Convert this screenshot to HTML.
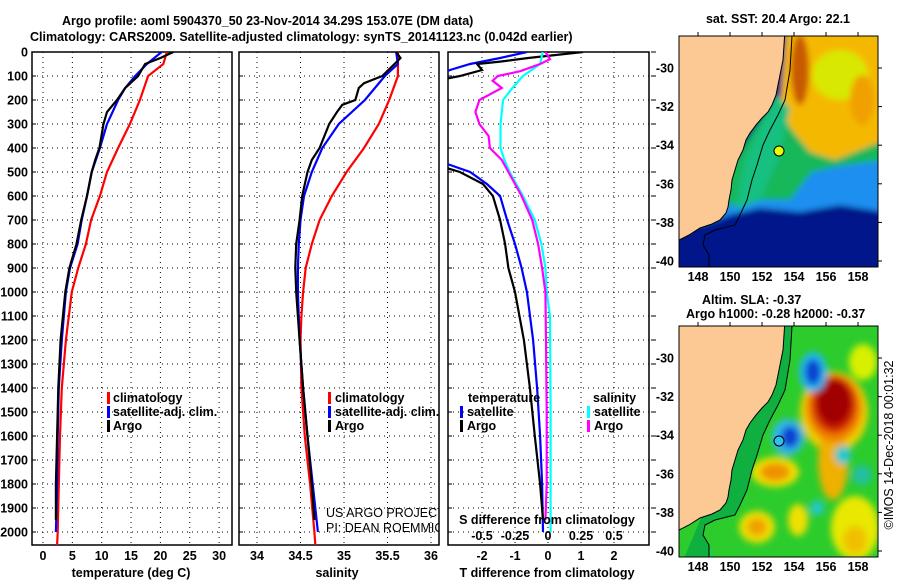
<!DOCTYPE html>
<html><head><meta charset="utf-8">
<style>
html,body{margin:0;padding:0;background:#fff;}
svg{display:block;font-family:"Liberation Sans",Arial,sans-serif;}
.b{font-weight:bold;font-size:12.5px;fill:#000;}
.n{font-size:12.5px;fill:#000;}
</style></head>
<body>
<svg id="fig" width="900" height="580" viewBox="0 0 900 580" xmlns="http://www.w3.org/2000/svg">
<defs>
<clipPath id="c1"><rect x="32" y="52" width="200" height="493"/></clipPath>
<clipPath id="c2"><rect x="239" y="52" width="200" height="493"/></clipPath>
<clipPath id="c3"><rect x="448" y="52" width="201" height="493"/></clipPath>
<clipPath id="cm1"><rect x="679" y="36" width="199" height="231"/></clipPath>
<clipPath id="cm2"><rect x="679" y="326" width="199" height="231"/></clipPath>
<filter id="bl" x="-20%" y="-20%" width="140%" height="140%"><feGaussianBlur stdDeviation="3"/></filter>
<filter id="bl2" x="-50%" y="-50%" width="200%" height="200%"><feGaussianBlur stdDeviation="3.5"/></filter>
</defs>
<text class="b" x="62" y="25">Argo profile: aoml 5904370_50 23-Nov-2014 34.29S 153.07E (DM data)</text>
<text class="b" x="30" y="41">Climatology: CARS2009. Satellite-adjusted climatology: synTS_20141123.nc (0.042d earlier)</text>
<text class="b" x="778" y="23" text-anchor="middle">sat. SST: 20.4 Argo: 22.1</text>
<text class="b" x="702" y="304">Altim. SLA: -0.37</text>
<text class="b" x="686" y="318">Argo h1000: -0.28 h2000: -0.37</text>
<text class="n" x="893" y="445" text-anchor="middle" transform="rotate(-90 893 445)">©IMOS 14-Dec-2018 00:01:32</text>
<g id="g1"></g><g id="g2"></g><g id="g3"></g><g id="maps"></g>
</svg>
<script>
// ---- data (depth in m) ----
const tClimDepth=[0,50,100,200,300,400,500,600,700,800,900,1000,1200,1400,1600,1800,2000,2054];
const tClimVal=[21.1,20.5,17.9,16.5,14.8,12.8,10.9,9.7,8.2,7.3,6.0,4.9,3.9,3.2,2.9,2.7,2.5,2.4];
const tSatDepth=[0,50,100,150,200,300,400,500,600,700,800,900,1000,1200,1400,1600,1800,2000];
const tSatVal=[20.2,17.7,15.7,14.0,12.8,10.9,9.7,8.3,7.5,6.6,5.9,4.6,3.9,3.2,2.7,2.5,2.4,2.2];
const tArgoDepth=[0,25,50,100,150,200,250,300,400,450,500,600,700,800,900,1000,1200,1400,1600,1800,1950];
const tArgoVal=[22.2,20.0,17.4,16.2,14.0,12.6,10.9,10.3,9.6,8.9,8.3,7.5,6.5,5.7,4.5,3.8,3.0,2.6,2.4,2.2,2.2];
const sClimDepth=[0,100,200,300,400,500,600,700,800,900,1000,1100,1200,1400,1600,1800,2000,2054];
const sClimVal=[35.62,35.62,35.52,35.40,35.23,35.03,34.86,34.72,34.63,34.56,34.53,34.51,34.50,34.51,34.55,34.61,34.66,34.67];
const sSatDepth=[0,50,100,200,300,400,500,600,700,800,900,1000,1200,1400,1600,1800,2000];
const sSatVal=[35.60,35.62,35.47,35.24,34.94,34.75,34.63,34.54,34.50,34.48,34.47,34.47,34.49,34.53,34.58,34.64,34.70];
const sArgoDepth=[0,25,50,100,130,150,200,220,250,300,400,450,500,600,700,800,900,1000,1200,1400,1600,1800,1950];
const sArgoVal=[35.60,35.65,35.58,35.44,35.23,35.17,35.13,34.98,34.92,34.83,34.72,34.63,34.58,34.52,34.49,34.45,34.44,34.45,34.49,34.53,34.58,34.63,34.66];
const dTSatDepth=[0,25,50,75,100,450,500,550,600,700,800,900,1000,1200,1400,1600,1800,2000];
const dTSatVal=[-0.64,-1.45,-2.36,-2.97,-3.4,-3.4,-2.36,-1.85,-1.45,-1.24,-1.0,-0.8,-0.64,-0.45,-0.33,-0.24,-0.18,-0.15];
const dTArgoDepth=[0,25,40,50,75,100,120,470,500,550,600,700,800,900,1000,1200,1400,1600,1800,1950];
const dTArgoVal=[1.06,-0.6,-1.45,-2.15,-2.0,-2.67,-3.4,-3.4,-2.67,-1.97,-1.67,-1.45,-1.3,-1.2,-1.0,-0.73,-0.55,-0.4,-0.24,-0.15];
const dSSatDepth=[0,50,100,150,200,300,400,450,500,600,700,800,900,1000,1100,1500,2000];
const dSSatVal=[-0.04,-0.06,-0.19,-0.27,-0.34,-0.36,-0.36,-0.33,-0.29,-0.19,-0.10,-0.05,-0.02,-0.01,0.015,0.02,0.02];
const dSArgoDepth=[0,30,50,80,100,120,150,200,250,300,350,400,450,500,600,700,800,900,1000,1200,1500,1800,1950];
const dSArgoVal=[-0.02,0.015,-0.06,-0.21,-0.38,-0.42,-0.35,-0.52,-0.55,-0.52,-0.45,-0.44,-0.35,-0.30,-0.20,-0.12,-0.075,-0.045,-0.02,-0.015,-0.01,-0.01,-0.02];
const depthTicks=[0,100,200,300,400,500,600,700,800,900,1000,1100,1200,1300,1400,1500,1600,1700,1800,1900,2000];
const tTicks=[0,5,10,15,20,25,30];
const sTicks=[34,34.5,35,35.5,36];
const sTickLabels=["34","34.5","35","35.5","36"];
const dTTicks=[-2,-1,0,1,2];
const dSTicks=[-0.5,-0.25,0,0.25,0.5];
const dSTickLabels=["-0.5","-0.25","0","0.25","0.5"];
const lonTicks=[148,150,152,154,156,158];
const latTicks=[-30,-32,-34,-36,-38,-40];

// ---- scales ----
const Y=d=>52+d*0.24;
const X1=v=>43+v*5.87;
const X2=v=>257+(v-34)*87;
const X3=v=>548+v*33;
const X3s=v=>548+v*132;
const NS="http://www.w3.org/2000/svg";
function mk(tag,parent,attrs){const e=document.createElementNS(NS,tag);for(const k in attrs)e.setAttribute(k,attrs[k]);parent.appendChild(e);return e;}
function line(parent,dep,val,xf,color,name,clip){
  const pts=dep.map((d,i)=>xf(val[i]).toFixed(1)+","+Y(d).toFixed(1)).join(" ");
  const p=mk("polyline",parent,{points:pts,fill:"none",stroke:color,"stroke-width":2.2,"clip-path":"url(#"+clip+")"});
  
  
}
function panel(g,x0,x1,xticks,xf,clip,leftLabels,rightTicks){
  depthTicks.forEach(d=>{if(d>0)mk("line",g,{x1:x0,x2:x1,y1:Y(d),y2:Y(d),stroke:"#000","stroke-width":1,"stroke-dasharray":"1,4"});});
  xticks.forEach(v=>{mk("line",g,{x1:xf(v),x2:xf(v),y1:52,y2:545,stroke:"#000","stroke-width":1,"stroke-dasharray":"1,4"});});
  depthTicks.forEach(d=>{mk("line",g,{x1:x0,x2:x0+4,y1:Y(d),y2:Y(d),stroke:"#000"});
    if(rightTicks)mk("line",g,{x1:x1+2,x2:x1+7,y1:Y(d),y2:Y(d),stroke:"#000"});});
  const r=mk("rect",g,{x:x0,y:52,width:x1-x0,height:493,fill:"none",stroke:"#000","stroke-width":1.5});
  
  
  if(leftLabels){depthTicks.forEach(d=>{const t=mk("text",g,{x:28,y:Y(d)+4.5,"text-anchor":"end",class:"b"});t.textContent=d;
    
    });}
}
function tickLabels(g,vals,labels,xf,y){vals.forEach((v,i)=>{const t=mk("text",g,{x:xf(v),y:y,"text-anchor":"middle",class:"b"});t.textContent=labels[i];
  
  });}
function txt(g,x,y,s,name,cls,anchor){const t=mk("text",g,{x:x,y:y,class:cls||"b","text-anchor":anchor||"start"});t.textContent=s;
  
  return t;}
function legBar(g,x,y,color,name){const r=mk("rect",g,{x:x,y:y-10,width:3,height:12,fill:color});
  
  }

// Panel 1
const g1=document.getElementById("g1");
panel(g1,32,232,tTicks,X1,"c1",true,false);
line(g1,tClimDepth,tClimVal,X1,"#f00","temp-climatology-line","c1");
line(g1,tSatDepth,tSatVal,X1,"#00f","temp-satellite-line","c1");
line(g1,tArgoDepth,tArgoVal,X1,"#000","temp-argo-line","c1");
tickLabels(g1,tTicks,tTicks.map(String),X1,560);
txt(g1,131,577,"temperature (deg C)","temp-x-axis-title","b","middle");
legBar(g1,107,402,"#f00","legend-climatology-swatch");txt(g1,113,402,"climatology","legend-climatology");
legBar(g1,107,416,"#00f","legend-satellite-swatch");txt(g1,113,416,"satellite-adj. clim.","legend-satellite");
legBar(g1,107,430,"#000","legend-argo-swatch");txt(g1,113,430,"Argo","legend-argo");

// Panel 2
const g2=document.getElementById("g2");
panel(g2,239,439,sTicks,X2,"c2",false,false);
line(g2,sClimDepth,sClimVal,X2,"#f00","sal-climatology-line","c2");
line(g2,sSatDepth,sSatVal,X2,"#00f","sal-satellite-line","c2");
line(g2,sArgoDepth,sArgoVal,X2,"#000","sal-argo-line","c2");
tickLabels(g2,sTicks,sTickLabels,X2,560);
txt(g2,337,577,"salinity","sal-x-axis-title","b","middle");
legBar(g2,328,402,"#f00","legend2-climatology-swatch");txt(g2,335,402,"climatology","legend2-climatology");
legBar(g2,328,416,"#00f","legend2-satellite-swatch");txt(g2,335,416,"satellite-adj. clim.","legend2-satellite");
legBar(g2,328,430,"#000","legend2-argo-swatch");txt(g2,335,430,"Argo","legend2-argo");
const cg=mk("g",g2,{"clip-path":"url(#c2)"});
txt(cg,326,517,"US ARGO PROJECT","us-argo-credit","n");
txt(cg,326,532,"PI: DEAN ROEMMICH","pi-credit","n");

// Panel 3
const g3=document.getElementById("g3");
panel(g3,448,649,dTTicks,X3,"c3",false,true);
line(g3,dTSatDepth,dTSatVal,X3,"#00f","tdiff-satellite-line","c3");
line(g3,dTArgoDepth,dTArgoVal,X3,"#000","tdiff-argo-line","c3");
line(g3,dSSatDepth,dSSatVal,X3s,"#0ff","sdiff-satellite-line","c3");
line(g3,dSArgoDepth,dSArgoVal,X3s,"#f0f","sdiff-argo-line","c3");
tickLabels(g3,dSTicks,dSTickLabels,X3s,540);
tickLabels(g3,dTTicks,dTTicks.map(String),X3,560);
txt(g3,547,524,"S difference from climatology","sdiff-axis-title","b","middle");
txt(g3,547,577,"T difference from climatology","tdiff-x-axis-title","b","middle");
txt(g3,468,402,"temperature","legend3-temperature-header");
legBar(g3,460,416,"#00f","legend3-tsat-swatch");txt(g3,467,416,"satellite","legend3-tsat");
legBar(g3,460,430,"#000","legend3-targo-swatch");txt(g3,467,430,"Argo","legend3-targo");
txt(g3,593,402,"salinity","legend3-salinity-header");
legBar(g3,587,416,"#0ff","legend3-ssat-swatch");txt(g3,594,416,"satellite","legend3-ssat");
legBar(g3,587,430,"#f0f","legend3-sargo-swatch");txt(g3,594,430,"Argo","legend3-sargo");

// ---- Maps ----
const gm=document.getElementById("maps");
const MX=lon=>698+(lon-148)*16;
function mapAxes(oy){
  const MY=lat=>oy+68+(-30-lat)*19.3;
  latTicks.forEach(l=>{const t=mk("text",gm,{x:674,y:MY(l)+4.5,"text-anchor":"end",class:"b"});t.textContent=l;
    
    
    mk("line",gm,{x1:878,x2:882,y1:MY(l),y2:MY(l),stroke:"#000"});});
  lonTicks.forEach(l=>{const t=mk("text",gm,{x:MX(l),y:oy+281,"text-anchor":"middle",class:"b"});t.textContent=l;
    
    
    mk("line",gm,{x1:MX(l),x2:MX(l),y1:oy+32,y2:oy+36,stroke:"#000"});});
}
const coast="785,30 783,60 779,80 776,95 772,105 768,112 762,118 756,125 750,133 746,140 743,150 738,160 735,170 732,180 731,190 729,200 728,207 726,213 720,220 712,224 700,228 689,235 679,240 679,30";
const contour="792,36 790,70 785,100 778,115 770,130 763,145 757,165 752,180 747,200 740,215 735,225 715,230 705,235 703,245 709,255 709,267";
function shift(pts,dy){return pts.split(" ").map(p=>{const [a,b]=p.split(",");return a+","+(+b+dy);}).join(" ");}

// SST map
const m1=mk("g",gm,{"clip-path":"url(#cm1)"});


const sg=mk("g",m1,{filter:"url(#bl)"});
mk("rect",sg,{x:670,y:30,width:220,height:250,fill:"#00138a"});
mk("polygon",sg,{points:"700,190 740,198 790,198 810,172 840,166 885,158 885,212 840,205 800,212 760,208 730,215 700,225",fill:"#1f8ff0"});
mk("polygon",sg,{points:"776,95 790,125 810,150 835,160 860,150 885,140 885,160 840,166 812,172 790,200 760,200 730,205 700,215",fill:"#12b85a"});
mk("polygon",sg,{points:"786,30 885,30 885,140 860,150 835,160 810,152 792,130 780,110 784,60",fill:"#f5b800"});
mk("ellipse",sg,{cx:840,cy:75,rx:28,ry:25,fill:"#d8e800"});
mk("ellipse",sg,{cx:800,cy:70,rx:9,ry:35,fill:"#c85a00"});
mk("ellipse",sg,{cx:862,cy:100,rx:12,ry:25,fill:"#f0a000"});
mk("polygon",sg,{points:"776,95 790,108 778,160 760,200 735,210 745,160",fill:"#18c080"});
mk("polygon",m1,{points:coast,fill:"#fcc994"});
mk("polyline",m1,{points:coast.split(" ").slice(0,-1).join(" "),fill:"none",stroke:"#000","stroke-width":1});
mk("polyline",m1,{points:contour,fill:"none",stroke:"#000","stroke-width":1});
const d1=mk("circle",m1,{cx:779,cy:151,r:5,fill:"#e8ff00",stroke:"#000","stroke-width":1});


mk("rect",gm,{x:679,y:36,width:199,height:231,fill:"none",stroke:"#000"});
mapAxes(0);

// SLA map
const m2=mk("g",gm,{"clip-path":"url(#cm2)"});


mk("rect",m2,{x:670,y:320,width:220,height:250,fill:"#2ccc2c"});
const bg=mk("g",m2,{filter:"url(#bl2)"});
const blob=(cx,cy,rx,ry,f)=>mk("ellipse",bg,{cx:cx,cy:cy,rx:rx,ry:ry,fill:f});
blob(863,362,14,18,"#d8f000");
blob(834,412,34,40,"#f0d000");blob(833,462,15,38,"#f0b000");
blob(834,408,28,34,"#f08000");blob(834,405,22,28,"#d02000");blob(834,402,17,23,"#a00000");
blob(813,372,14,20,"#22b8f0");blob(813,372,8,13,"#1040d0");
blob(788,437,16,18,"#30b8f0");blob(790,437,9,11,"#1040d0");
blob(775,472,24,15,"#f0e000");blob(775,472,15,9,"#f09000");
blob(757,527,18,16,"#f0e000");blob(757,527,10,9,"#f0a000");
blob(798,520,10,16,"#f0e000");
blob(855,528,24,32,"#e8e800");blob(855,540,12,14,"#f0c000");
blob(817,508,7,7,"#20c8d0");blob(843,455,8,9,"#20c8d0");blob(700,555,9,7,"#20c8d0");
blob(862,475,10,10,"#20c0a0");
mk("polygon",m2,{points:shift("785,30 792,36 790,70 785,100 778,115 770,130 763,145 757,165 752,180 747,200 740,215 735,225 715,230 705,235 703,245 709,255 709,280 679,280",290),fill:"#10b040"});
mk("polygon",m2,{points:shift(coast,290),fill:"#fcc994"});
mk("polyline",m2,{points:shift(coast.split(" ").slice(0,-1).join(" "),290),fill:"none",stroke:"#000","stroke-width":1});
mk("polyline",m2,{points:shift(contour,290),fill:"none",stroke:"#000","stroke-width":1});
const d2=mk("circle",m2,{cx:779,cy:441,r:5,fill:"#30c0f0",stroke:"#000","stroke-width":1});


mk("rect",gm,{x:679,y:326,width:199,height:231,fill:"none",stroke:"#000"});
mapAxes(290);
</script>
</body></html>
